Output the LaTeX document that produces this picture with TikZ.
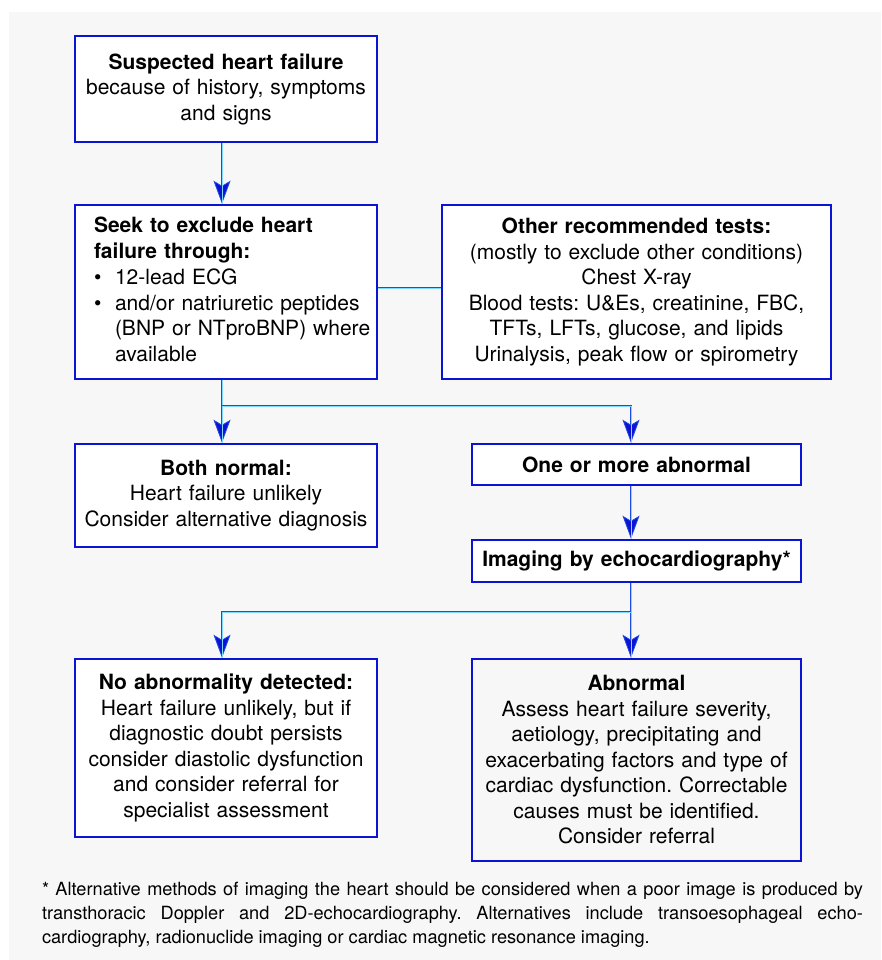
\documentclass[tikz,border=0pt]{standalone}
\usepackage{fontspec}
\setmainfont{TeX Gyre Heros}
\usetikzlibrary{arrows.meta,positioning}
\definecolor{bg}{HTML}{F7F7F7}
\definecolor{boxblue}{HTML}{0A14D2}
\definecolor{lineblue}{HTML}{1E4BE6}
\definecolor{paleblue}{HTML}{7FD8FF}
\newcommand\flowfont{\fontsize{21}{25.5}\selectfont\frenchspacing}
\newcommand\notefont{\fontsize{18.2}{24}\selectfont\frenchspacing}

\begin{document}
\begin{tikzpicture}[x=1pt,y=-1pt,
  box/.style={draw=boxblue,line width=2.5pt,fill=white,inner sep=0pt,align=center,font=\flowfont},
  conn/.style={draw=lineblue,line width=2.4pt,postaction={draw=paleblue,line width=0.8pt,-}},
  tip/.style={conn,-{Stealth[length=23pt,width=17pt,inset=5pt,fill=boxblue,line width=0.8pt]}}]
\useasboundingbox (0,0) rectangle (881,960);
\fill[bg] (9,12) rectangle (881,960);
\coordinate (lcol) at (222,0);
\coordinate (rcol) at (631,0);
\node[box,text width=302pt,minimum height=106pt] (n0) at (226,89) {\textbf{Suspected heart failure}\\because of history, symptoms\\and signs};
\node[box,text width=302pt,minimum height=174pt,align=left] (n1) at (226,292) {%
  \begin{tabular}{@{\hspace{19pt}}l@{}l@{}}
  \multicolumn{2}{@{\hspace{19pt}}l@{}}{\textbf{Seek to exclude heart}}\\[0.3pt]
  \multicolumn{2}{@{\hspace{19pt}}l@{}}{\textbf{failure through:}}\\[0.3pt]
  \makebox[21pt][l]{\textbullet}&12-lead ECG\\[0.3pt]
  \makebox[21pt][l]{\textbullet}&and/or natriuretic peptides\\[0.3pt]
  &(BNP or NTproBNP) where\\[0.3pt]
  &available
  \end{tabular}};
\node[box,text width=389pt,minimum height=174pt] (n2) at (636.5,292) {\textbf{Other recommended tests:}\\(mostly to exclude other conditions)\\Chest X-ray\\Blood tests: U\&Es, creatinine, FBC,\\TFTs, LFTs, glucose, and lipids\\Urinalysis, peak flow or spirometry};
\node[box,text width=302pt,minimum height=103pt] (n3) at (226,495.5) {\textbf{Both normal:}\\Heart failure unlikely\\Consider alternative diagnosis};
\node[box,text width=329pt,minimum height=41pt] (n4) at (636.5,464.5) {\textbf{One or more abnormal}};
\node[box,text width=329pt,minimum height=42pt] (n5) at (636.5,561) {\textbf{Imaging by echocardiography*}};
\node[box,text width=302pt,minimum height=178pt] (n6) at (226,748) {\textbf{No abnormality detected:}\\Heart failure unlikely, but if\\diagnostic doubt persists\\consider diastolic dysfunction\\and consider referral for\\specialist assessment};
\node[box,text width=329pt,minimum height=202pt,fill=bg] (n7) at (636.5,760) {\textbf{Abnormal}\\Assess heart failure severity,\\aetiology, precipitating and\\exacerbating factors and type of\\cardiac dysfunction. Correctable\\causes must be identified.\\Consider referral};
\node[text width=821pt,align=justify,inner sep=0pt,font=\notefont] (note) at (452.5,915) {* Alternative methods of imaging the heart should be considered when a poor image is produced by\linebreak transthoracic Doppler and 2D-echocardiography. Alternatives include transoesophageal echo-\linebreak cardiography, radionuclide imaging or cardiac magnetic resonance imaging.};
\coordinate (s1) at (222,406);
\coordinate (s2) at (631,612);
\draw[tip] (n0.south -| lcol) -- (n1.north -| lcol);
\draw[conn] ([yshift=4pt]n1.east) -- ([yshift=4pt]n2.west);
\draw[conn] (n1.south -| lcol) -- (s1);
\draw[tip] (s1) -- (n3.north -| lcol);
\draw[tip] (s1) -| (n4.north -| rcol);
\draw[tip] (n4.south -| rcol) -- (n5.north -| rcol);
\draw[conn] (n5.south -| rcol) -- (s2);
\draw[tip] (s2) -- (n7.north -| rcol);
\draw[tip] (s2) -| (n6.north -| lcol);
\end{tikzpicture}
\end{document}
